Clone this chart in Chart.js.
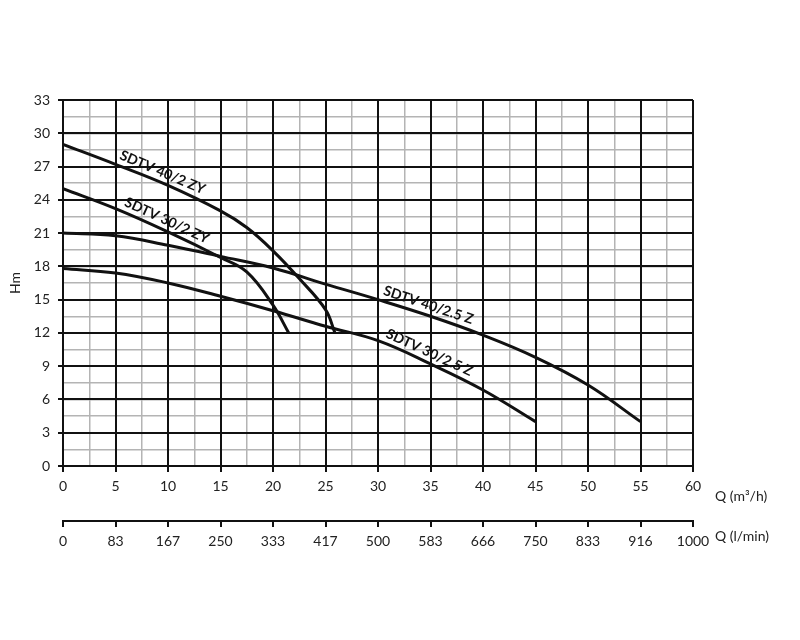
<!DOCTYPE html>
<html>
<head>
<meta charset="utf-8">
<script src="https://cdn.jsdelivr.net/npm/chart.js@4"></script>
<style>
  body { margin: 0; background: #fff; }
  #chart { display: block; }
</style>
</head>
<body>
<canvas id="chart" width="800" height="640"></canvas>
<script>
// pump curves: flow Q (m3/h) against head H (m)
const q40_2zy = [0, 5, 10, 15, 17.5, 20, 22.5, 25, 25.9];
const h40_2zy = [29, 27.2, 25.3, 23.0, 21.5, 19.4, 16.9, 14.1, 12.0];

const q30_2zy = [0, 5, 10, 15, 17.5, 20, 21.5];
const h30_2zy = [25, 23.2, 21.1, 18.8, 17.5, 14.5, 12.0];

const q40_25z = [0, 5, 10, 15, 20, 25, 30, 35, 40, 45, 50, 55];
const h40_25z = [21, 20.75, 19.9, 18.9, 17.85, 16.4, 15.0, 13.5, 11.8, 9.8, 7.3, 4.0];

const q30_25z = [0, 5, 10, 15, 20, 25, 30, 35, 40, 45];
const h30_25z = [17.8, 17.4, 16.5, 15.3, 14.0, 12.6, 11.3, 9.2, 6.85, 4.0];

const seriesNames = ['SDTV 40/2 ZY', 'SDTV 30/2 ZY', 'SDTV 40/2.5 Z', 'SDTV 30/2.5 Z'];
const labelAtQ = [9.1, 9.5, 34.5, 34.5];

const qTicks = [0, 5, 10, 15, 20, 25, 30, 35, 40, 45, 50, 55, 60];
const lpmTicks = ['0', '83', '167', '250', '333', '417', '500', '583', '666', '750', '833', '916', '1000'];

const FONT = 'Lato, "Open Sans", sans-serif';
const INK = '#111';
const MINOR = '#b4b4b4';

function toPoints(xs, ys) {
    return xs.map((x, i) => ({ x: x, y: ys[i] }));
}

function headAt(xs, ys, q) {
    for (let i = 1; i < xs.length; i++) {
        if (q <= xs[i]) {
            const t = (q - xs[i - 1]) / (xs[i] - xs[i - 1]);
            return ys[i - 1] + t * (ys[i] - ys[i - 1]);
        }
    }
    return ys[ys.length - 1];
}

const curves = [
    [q40_2zy, h40_2zy],
    [q30_2zy, h30_2zy],
    [q40_25z, h40_25z],
    [q30_25z, h30_25z]
];

// names written along each curve, and the axis titles
const curveText = {
    id: 'curveText',
    afterDatasetsDraw(chart) {
        const ctx = chart.ctx;
        const xs = chart.scales.x;
        const ys = chart.scales.y;
        ctx.save();
        ctx.fillStyle = INK;
        ctx.font = 'bold 14px ' + FONT;
        ctx.textAlign = 'center';
        ctx.textBaseline = 'middle';
        curves.forEach(([qs, hs], i) => {
            const q = labelAtQ[i];
            const x1 = xs.getPixelForValue(q - 2), y1 = ys.getPixelForValue(headAt(qs, hs, q - 2));
            const x2 = xs.getPixelForValue(q + 2), y2 = ys.getPixelForValue(headAt(qs, hs, q + 2));
            const ang = Math.atan2(y2 - y1, x2 - x1);
            const px = xs.getPixelForValue(q), py = ys.getPixelForValue(headAt(qs, hs, q));
            ctx.save();
            ctx.translate(px + Math.sin(ang) * 10, py - Math.cos(ang) * 10);
            ctx.rotate(ang);
            ctx.fillText(seriesNames[i], 0, 0);
            ctx.restore();
        });
        ctx.restore();
    },
    afterDraw(chart) {
        const ctx = chart.ctx;
        const area = chart.chartArea;
        ctx.save();
        ctx.fillStyle = '#222';
        ctx.font = '14px ' + FONT;
        ctx.textAlign = 'left';
        ctx.textBaseline = 'middle';
        ctx.fillText('Q (m³/h)', area.right + 22, area.bottom + 30);
        ctx.fillText('Q (l/min)', area.right + 22, area.bottom + 70);
        ctx.translate(15, (area.top + area.bottom) / 2);
        ctx.rotate(-Math.PI / 2);
        ctx.textAlign = 'center';
        ctx.fillText('Hm', 0, 0);
        ctx.restore();
    }
};

new Chart(document.getElementById('chart'), {
    type: 'scatter',
    data: {
        datasets: curves.map(([qs, hs], i) => ({
            label: seriesNames[i],
            data: toPoints(qs, hs),
            showLine: true,
            borderColor: INK,
            borderWidth: 3,
            pointRadius: 0,
            tension: 0.4,
            xAxisID: 'x',
            yAxisID: 'y'
        }))
    },
    options: {
        responsive: false,
        animation: false,
        devicePixelRatio: 1,
        layout: { padding: { top: 100, right: 107, left: 0, bottom: 79 } },
        plugins: { legend: { display: false }, tooltip: { enabled: false } },
        scales: {
            xm: {
                type: 'linear', position: 'bottom', weight: -1, z: -1,
                min: 0, max: 60,
                ticks: { display: false, stepSize: 2.5 },
                grid: { color: MINOR, lineWidth: 1.5, drawTicks: false },
                border: { display: false },
                afterFit: s => { s.height = 0; }
            },
            ym: {
                type: 'linear', position: 'left', weight: -1, z: -1,
                min: 0, max: 33,
                ticks: { display: false, stepSize: 1.5 },
                grid: { color: MINOR, lineWidth: 1.5, drawTicks: false },
                border: { display: false },
                afterFit: s => { s.width = 0; }
            },
            x: {
                type: 'linear', position: 'bottom', weight: 0,
                min: 0, max: 60,
                afterBuildTicks: s => { s.ticks = qTicks.map(v => ({ value: v })); },
                ticks: { color: '#222', font: { family: FONT, size: 14 }, padding: 6, maxRotation: 0 },
                grid: { color: INK, lineWidth: 2, tickLength: 6 },
                border: { color: INK, width: 2 },
                afterFit: s => { s.height = 55; }
            },
            x2: {
                type: 'linear', position: 'bottom', weight: 1,
                min: 0, max: 60,
                afterBuildTicks: s => { s.ticks = qTicks.map(v => ({ value: v })); },
                ticks: {
                    color: '#222', font: { family: FONT, size: 14 }, padding: 6, maxRotation: 0,
                    callback: (v, i) => lpmTicks[i]
                },
                grid: { drawOnChartArea: false, color: INK, lineWidth: 2, tickLength: 6 },
                border: { color: INK, width: 2 },
                afterFit: s => { s.height = 40; }
            },
            y: {
                type: 'linear', position: 'left',
                min: 0, max: 33,
                ticks: { stepSize: 3, color: '#222', font: { family: FONT, size: 14 }, padding: 8 },
                grid: { color: INK, lineWidth: 2, tickLength: 5 },
                border: { color: INK, width: 2 },
                afterFit: s => { s.width = 63; }
            }
        }
    },
    plugins: [curveText]
});
</script>
</body>
</html>
